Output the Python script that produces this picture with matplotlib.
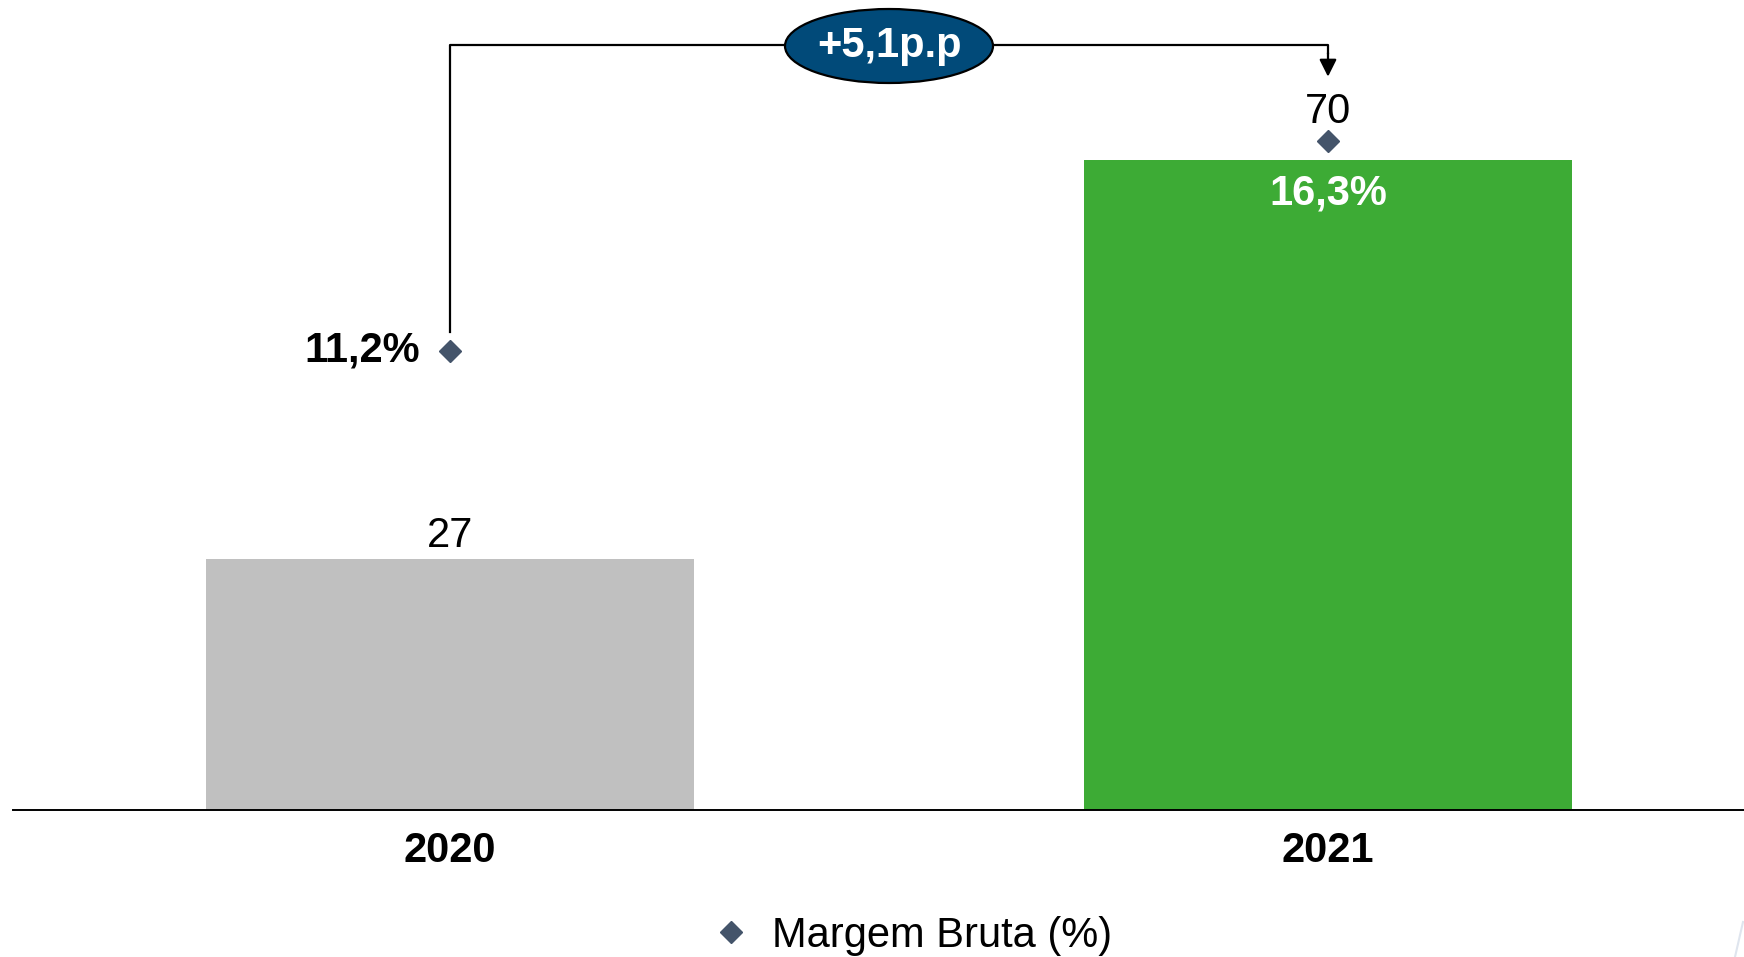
"""Gross profit / gross margin chart, 2020 vs 2021."""

import matplotlib
import matplotlib.pyplot as plt
from matplotlib.lines import Line2D
from matplotlib.patches import Ellipse

matplotlib.use("Agg")

plt.rcParams["font.family"] = ["Liberation Sans", "DejaVu Sans"]

# data
years = ["2020", "2021"]
gross_profit = [27, 70]
gross_margin = [11.2, 16.3]
margin_labels = ["11,2%", "16,3%"]
delta_label = "+5,1p.p"
legend_label = "Margem Bruta (%)"

bar_colors = ["#c0c0c0", "#3dab35"]
marker_color = "#44546a"
ellipse_color = "#014a79"

W, H = 1744, 957
fig = plt.figure(figsize=(W / 100, H / 100), dpi=100)
ax = fig.add_axes([13 / W, 1 - 810 / H, 1 - 13 / W, 810 / H])
ax2 = ax.twinx()

x = list(range(len(years)))
ax.bar(x, gross_profit, width=0.556, color=bar_colors, edgecolor="none", zorder=2)
ax.set_xlim(-0.4977, 1.4738)
ax.set_ylim(0, 87.2)
ax2.set_ylim(0, 19.75)

ax2.plot(x, gross_margin, linestyle="none", marker="D", markersize=11.5,
         color=marker_color, zorder=3)

for sp in ["top", "right", "left"]:
    ax.spines[sp].set_visible(False)
    ax2.spines[sp].set_visible(False)
ax2.spines["bottom"].set_visible(False)
ax.spines["bottom"].set_linewidth(1.4)
ax.set_yticks([])
ax2.set_yticks([])
ax.set_xticks(x)
ax.set_xticklabels(years, fontsize=30, fontweight="bold")
ax.tick_params(axis="x", length=0, pad=15)

# value labels
ax.annotate(str(gross_profit[0]), xy=(0, gross_profit[0]), xytext=(0, 3),
            textcoords="offset pixels", ha="center", va="bottom", fontsize=30)
ax.annotate(str(gross_profit[1]), xy=(1, gross_profit[1]), xytext=(0, 28),
            textcoords="offset pixels", ha="center", va="bottom", fontsize=30)

ax2.annotate(margin_labels[0], xy=(0, gross_margin[0]), xytext=(-30, 0),
             textcoords="offset pixels", ha="right", va="center",
             fontsize=30, fontweight="bold")
ax.annotate(margin_labels[1], xy=(1, gross_profit[1]), xytext=(0, -34),
            textcoords="offset pixels", ha="center", va="center",
            fontsize=30, fontweight="bold", color="white")

# bracket between the two margins
top = max(gross_margin) + 2.36
ax2.plot([0, 0, 1, 1], [gross_margin[0] + 0.45, top, top, top - 0.2],
         color="black", lw=1.6, clip_on=False, zorder=4)
ax2.annotate("", xy=(1, top - 0.78), xytext=(1, top - 0.2),
             arrowprops=dict(arrowstyle="-|>", color="black", lw=1.6,
                             mutation_scale=26, shrinkA=0, shrinkB=0),
             annotation_clip=False)

ell = Ellipse((889 / W, 1 - 46 / H), 208 / W, 74 / H, transform=fig.transFigure,
              facecolor=ellipse_color, edgecolor="black", lw=1.6, zorder=5)
fig.patches.append(ell)
fig.text(889 / W, 1 - 46 / H, delta_label, ha="center", va="center",
         fontsize=30, fontweight="bold", color="white", zorder=6)

# legend
handle = Line2D([], [], linestyle="none", marker="D", markersize=11.5,
                color=marker_color)
fig.legend([handle], [legend_label], loc="center", bbox_to_anchor=(911 / W, 1 - 936 / H),
           frameon=False, fontsize=30, handlelength=1.0, handletextpad=0.5)

# faint slash in the lower right corner
fig.lines.append(Line2D([1743 / W, 1735 / W], [1 - 922 / H, 0], transform=fig.transFigure,
                        color="#dfe5ee", lw=1.5))

fig.savefig("out.png", dpi=100)
plt.close(fig)
